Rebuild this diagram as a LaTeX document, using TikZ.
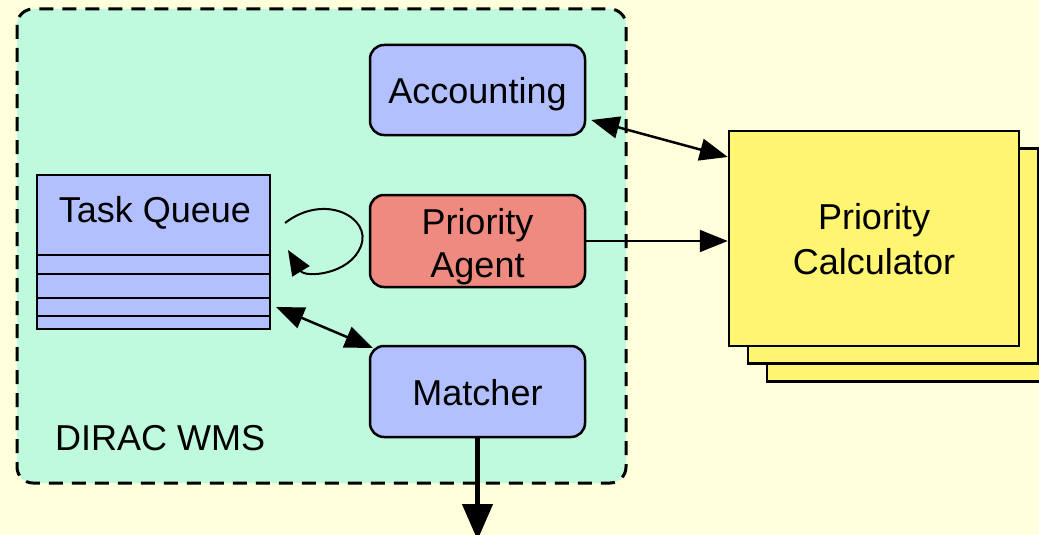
\documentclass[tikz,border=0pt]{standalone}
\usepackage{fontspec}
\setmainfont{Liberation Sans}
\usetikzlibrary{arrows.meta,calc}
\definecolor{bgyellow}{HTML}{FFFFDB}
\definecolor{panelgreen}{HTML}{BFFADF}
\definecolor{svcblue}{HTML}{B3C0FF}
\definecolor{agentred}{HTML}{EE8A80}
\definecolor{calcyellow}{HTML}{FFF570}
\tikzset{
  svc/.style={draw=black, line width=2.5pt, rounded corners=14pt, fill=svcblue,
    minimum width=215pt, inner sep=0pt},
  svctext/.style={align=center, inner sep=0pt,
    font=\fontsize{36}{43}\selectfont},
  calcbox/.style={draw=black, line width=2.5pt, fill=calcyellow,
    minimum width=290pt, minimum height=215pt, inner sep=0pt},
  link/.style={line width=2.5pt, {Triangle[length=28pt,width=22pt]}-{Triangle[length=28pt,width=22pt]}},
  onelink/.style={line width=2pt, -{Triangle[length=28pt,width=22pt]}},
}
\begin{document}
\begin{tikzpicture}[x=1pt,y=-1pt]
  \useasboundingbox (0,0) rectangle (1039,535);
  \fill[bgyellow] (0,0) rectangle (1039,535);

  % WMS panel
  \draw[fill=panelgreen, line width=3pt, dash pattern=on 14pt off 9pt, rounded corners=16pt]
    (17,9) rectangle (626,483);
  \node[anchor=west, inner sep=0pt, font=\fontsize{36}{40}\selectfont] (wms) at (55,438) {DIRAC WMS};

  % services
  \node[svc, minimum height=90pt] (acc) at (477.5,90) {};
  \node[svctext, yshift=-4pt] (acctext) at (acc) {Accounting};
  \node[svc, minimum height=92pt, fill=agentred] (agent) at (477.5,241) {};
  \node[svctext, yshift=-6pt] (agenttext) at (agent) {Priority\\Agent};
  \node[svc, minimum height=91pt] (match) at (477.5,391.5) {};
  \node[svctext, yshift=-1pt] (matchtext) at (match) {Matcher};

  % task queue
  \node[draw=black, line width=2.5pt, fill=svcblue, minimum width=233pt,
    minimum height=154pt, inner sep=0pt] (tq) at (153.5,252) {};
  \foreach \yy in {255,274,298,316}
    \draw[line width=2.5pt] (tq.west |- 0,\yy) -- (tq.east |- 0,\yy);
  \node[font=\fontsize{36}{40}\selectfont] (tqlabel) at (155,213) {Task Queue};

  % priority calculator stack
  \node[calcbox] (calc3) at (912,274) {};
  \node[calcbox] (calc2) at (893,256) {};
  \node[calcbox] (calc) at (874,238.5) {};
  \node[svctext, font=\fontsize{36}{45}\selectfont, yshift=-1pt] (calctext) at (calc) {Priority\\Calculator};

  % connectors
  \coordinate (accend) at ($(acc.east)+(5,30)$);
  \coordinate (calcin) at (calc.west |- 0,157);
  \draw[link] (accend) -- (calcin);
  \draw[onelink] (agent.east) -- (calc.west |- agent.east);
  \coordinate (tqlow) at (276,307);
  \coordinate (matchin) at (373,348);
  \draw[link] (tqlow) -- (matchin);
  \coordinate (loopstart) at (285,223);
  \coordinate (loopend) at (288,250);
  \draw[line width=2pt, -{Triangle[length=25pt,width=20pt]}]
    (loopstart) .. controls (325,192) and (372,218) .. (361,246)
    .. controls (350,275) and (305,278) .. (loopend);
  \coordinate (out) at (477.5,540);
  \draw[line width=4.5pt, -{Triangle[length=36pt,width=30pt]}] (match.south) -- (out);
\end{tikzpicture}
\end{document}
